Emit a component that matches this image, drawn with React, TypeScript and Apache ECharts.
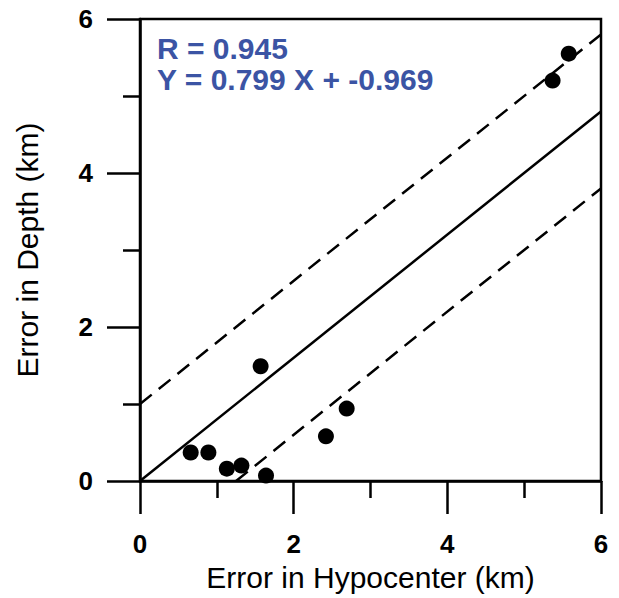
import React, { useEffect, useRef } from "react";
import * as echarts from "echarts";

const xTicks = [0, 2, 4, 6];
const pointsX = [0.66, 0.89, 1.13, 1.32, 1.64, 1.57, 2.42, 2.69, 5.37, 5.58];
const pointsY = [0.37, 0.37, 0.16, 0.2, 0.07, 1.49, 0.58, 0.94, 5.2, 5.55];
const fitLine = [[0, 0], [6, 4.8]];
const upperBound = [[0, 1], [6, 5.8]];
const lowerBound = [[1.25, 0], [6, 3.8]];
const annotation = ["R = 0.945", "Y = 0.799 X + -0.969"];
const xTitle = "Error in Hypocenter (km)";
const yTitle = "Error in Depth (km)";

export default function App() {
  const ref = useRef<HTMLDivElement>(null);
  useEffect(() => {
    if (!ref.current) return;
    const chart = echarts.init(ref.current, null, { renderer: "svg" });
    const axisCommon = {
      type: "value",
      min: 0,
      max: 6,
      interval: 2,
      axisLine: { show: true, onZero: false, lineStyle: { color: "#000", width: 2.5 } },
      axisTick: { show: true, inside: false, length: 33, lineStyle: { color: "#000", width: 2.5 } },
      minorTick: { show: true, splitNumber: 2, length: 17, lineStyle: { color: "#000", width: 2.5 } },
      splitLine: { show: false },
      minorSplitLine: { show: false },
      nameMoveOverlap: false,
      nameTextStyle: { fontFamily: "Liberation Sans", fontSize: 30, color: "#000" },
    };
    const labelStyle = { fontFamily: "Liberation Sans", fontSize: 26, fontWeight: "bold", color: "#000" };
    chart.setOption({
      animation: false,
      backgroundColor: "#fff",
      grid: {
        left: 140,
        right: 18,
        top: 19,
        bottom: 117,
        outerBoundsMode: "none",
        containLabel: false,
        show: true,
        borderColor: "#000",
        borderWidth: 2.5,
        backgroundColor: "transparent",
      },
      xAxis: {
        ...axisCommon,
        name: xTitle,
        nameLocation: "middle",
        nameGap: 81,
        axisLabel: { ...labelStyle, margin: 50, formatter: (v: number) => (xTicks.includes(v) ? String(v) : "") },
      },
      yAxis: {
        ...axisCommon,
        name: yTitle,
        nameLocation: "middle",
        nameGap: 98,
        axisLabel: { ...labelStyle, margin: 47 },
      },
      series: [
        {
          type: "line",
          data: fitLine,
          symbol: "none",
          lineStyle: { color: "#000", width: 2.5, type: "solid" },
        },
        {
          type: "line",
          data: upperBound,
          symbol: "none",
          lineStyle: { color: "#000", width: 2.5, type: [15, 9] },
        },
        {
          type: "line",
          data: lowerBound,
          symbol: "none",
          lineStyle: { color: "#000", width: 2.5, type: [15, 9] },
        },
        {
          type: "scatter",
          data: pointsX.map((x, i) => [x, pointsY[i]]),
          symbol: "circle",
          symbolSize: 16,
          itemStyle: { color: "#000", opacity: 1 },
          z: 5,
        },
      ],
      graphic: [
        {
          type: "text",
          left: 157,
          top: 33,
          style: {
            text: annotation.join("\n"),
            fontFamily: "Liberation Sans",
            fontSize: 30,
            lineHeight: 31,
            fontWeight: "bold",
            fill: "#3B54A4",
          },
        },
      ],
    });
    return () => chart.dispose();
  }, []);
  return (
    <div
      ref={ref}
      style={{ position: "fixed", left: 0, top: 0, width: 619, height: 598, background: "#fff" }}
    />
  );
}
